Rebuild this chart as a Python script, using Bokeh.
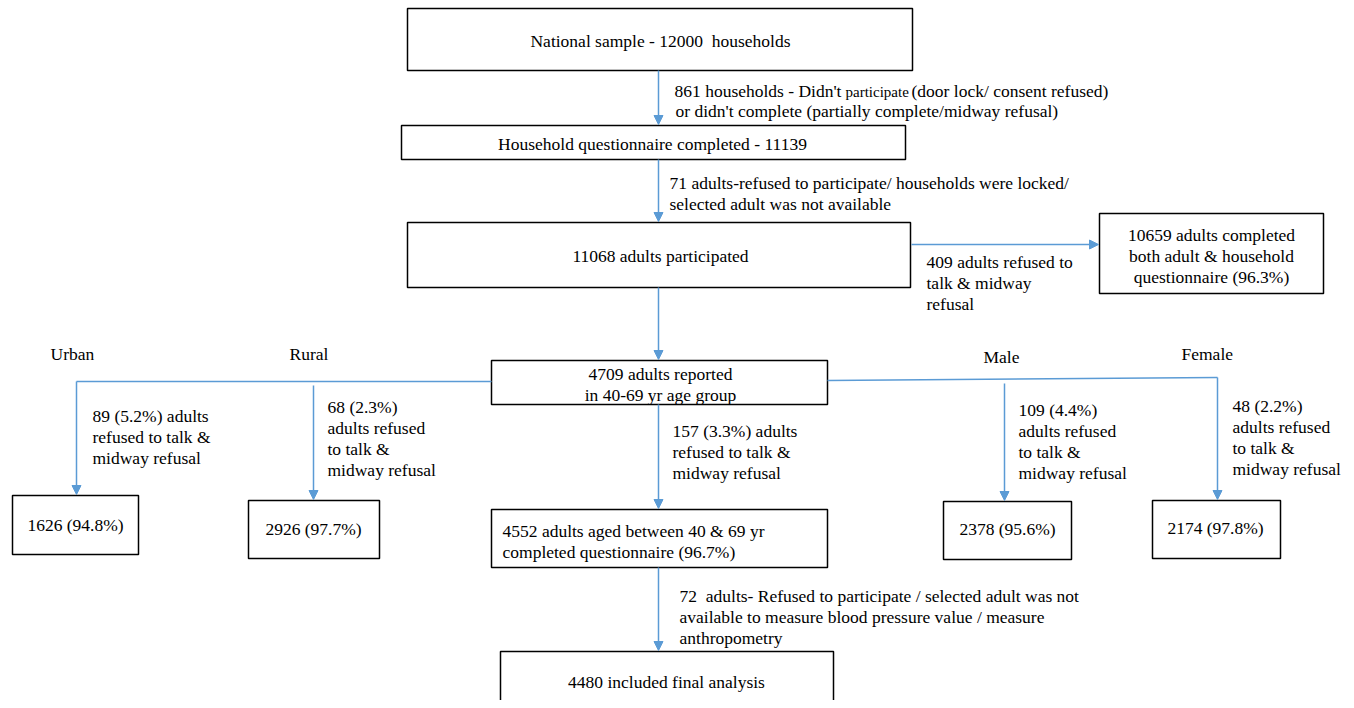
from bokeh.plotting import figure
from bokeh.models import Range1d, Arrow, NormalHead
from bokeh.core.properties import value
from bokeh.embed import file_html
from bokeh.resources import INLINE

NB = "\u00a0"  # keeps the double spaces of the original visible in SVG

# ---- data (texts of the flow chart) ----
box_texts = [
    ["National sample - 12000" + NB + " households"],
    ["Household questionnaire completed - 11139"],
    ["11068 adults participated"],
    ["10659 adults completed", "both adult & household", "questionnaire (96.3%)"],
    ["4709 adults reported", "in 40-69 yr age group"],
    ["1626 (94.8%)"],
    ["2926 (97.7%)"],
    ["4552 adults aged between 40 & 69 yr", "completed questionnaire (96.7%)"],
    ["2378 (95.6%)"],
    ["2174 (97.8%)"],
    ["4480 included final analysis"],
]
group_labels = ["Urban", "Rural", "Male", "Female"]
note_texts = [
    ["or didn't complete (partially complete/midway refusal)"],
    ["71 adults-refused to participate/ households were locked/", "selected adult was not available"],
    ["409 adults refused to", "talk & midway", "refusal"],
    ["89 (5.2%) adults", "refused to talk &", "midway refusal"],
    ["68 (2.3%)", "adults refused", "to talk &", "midway refusal"],
    ["157 (3.3%) adults", "refused to talk &", "midway refusal"],
    ["109 (4.4%)", "adults refused", "to talk &", "midway refusal"],
    ["48 (2.2%)", "adults refused", "to talk &", "midway refusal"],
    ["72" + NB + " adults- Refused to participate / selected adult was not",
     "available to measure blood pressure value / measure", "anthropometry"],
]
first_note_parts = ["861 households - Didn't", "participate", "(door lock/ consent refused)"]

# ---- layout (pixel-like coordinates) ----
box_geom = [  # left, right, top, bottom, text x, first line y, align
    (407, 912, 8, 70, 660, 40, "center"),
    (401, 905, 125, 159, 652, 143, "center"),
    (407, 910, 222, 287, 660, 255, "center"),
    (1099, 1323, 213, 293, 1211, 234, "center"),
    (491, 827, 360, 404, 660, 373, "center"),
    (12, 138, 495, 554, 75, 524, "center"),
    (248, 379, 500, 558, 313, 528, "center"),
    (491, 827, 509, 567, 502, 530, "left"),
    (943, 1071, 501, 559, 1007, 528, "center"),
    (1152, 1280, 500, 558, 1215, 527, "center"),
    (500, 833, 651, 720, 666, 681, "center"),
]
group_pos = [(50, 353), (289, 353), (983, 356), (1181, 353)]
note_pos = [(675, 110), (669, 182), (926, 261), (92, 415), (327, 406),
            (672, 430), (1018, 409), (1232, 405), (679, 595)]
first_note_x = [674, 845, 911]
first_note_y = 90
line_h = 21.3

arrows = [  # x0, y0, x1, y1
    (658, 70, 658, 124), (658, 159, 658, 221), (658, 287, 658, 359),
    (911, 244, 1098, 244),
    (76, 381, 76, 494), (313, 385, 313, 499), (1004, 383, 1004, 500),
    (1217, 377, 1217, 499),
    (658, 404, 658, 508), (658, 567, 658, 650),
]
plain_lines = [(76, 381, 491, 381), (827, 380, 1217, 377)]

BLUE = "#5b9bd5"
FONT = value("Liberation Serif, Times New Roman, serif")
FS = "17.5px"
FS_SMALL = "15px"

p = figure(width=1346, height=700, output_backend="svg", toolbar_location=None,
           x_range=Range1d(0, 1346), y_range=Range1d(700, 0),
           min_border=0, outline_line_color=None)
p.axis.visible = False
p.grid.visible = False
p.background_fill_color = "white"
p.border_fill_color = "white"

# boxes
p.quad(left=[g[0] for g in box_geom], right=[g[1] for g in box_geom],
       top=[g[2] for g in box_geom], bottom=[g[3] for g in box_geom],
       fill_color="white", line_color="black", line_width=1.5)

# connectors
for (x0, y0, x1, y1) in plain_lines:
    p.segment(x0=[x0], y0=[y0], x1=[x1], y1=[y1], line_color=BLUE, line_width=1.5)
for (x0, y0, x1, y1) in arrows:
    p.add_layout(Arrow(x_start=x0, y_start=y0, x_end=x1, y_end=y1,
                       line_color=BLUE, line_width=1.5,
                       end=NormalHead(size=9, fill_color=BLUE, line_color=BLUE, line_width=1)))

def add_lines(x, y, lines, align, size=FS):
    xs, ys, ts = [], [], []
    for i, t in enumerate(lines):
        xs.append(x); ys.append(y + i * line_h); ts.append(t)
    p.text(x=xs, y=ys, text=ts, text_font=FONT, text_font_size=size,
           text_align=align, text_baseline="middle", text_color="black")

for g, lines in zip(box_geom, box_texts):
    add_lines(g[4], g[5], lines, g[6])
for (x, y), t in zip(group_pos, group_labels):
    add_lines(x, y, [t], "left")
for (x, y), lines in zip(note_pos, note_texts):
    add_lines(x, y, lines, "left")
for x, t, s, dy in zip(first_note_x, first_note_parts, [FS, FS_SMALL, FS], [0, 1, 0]):
    add_lines(x, first_note_y + dy, [t], "left", size=s)

open("out.html", "w").write(file_html(p, INLINE))
